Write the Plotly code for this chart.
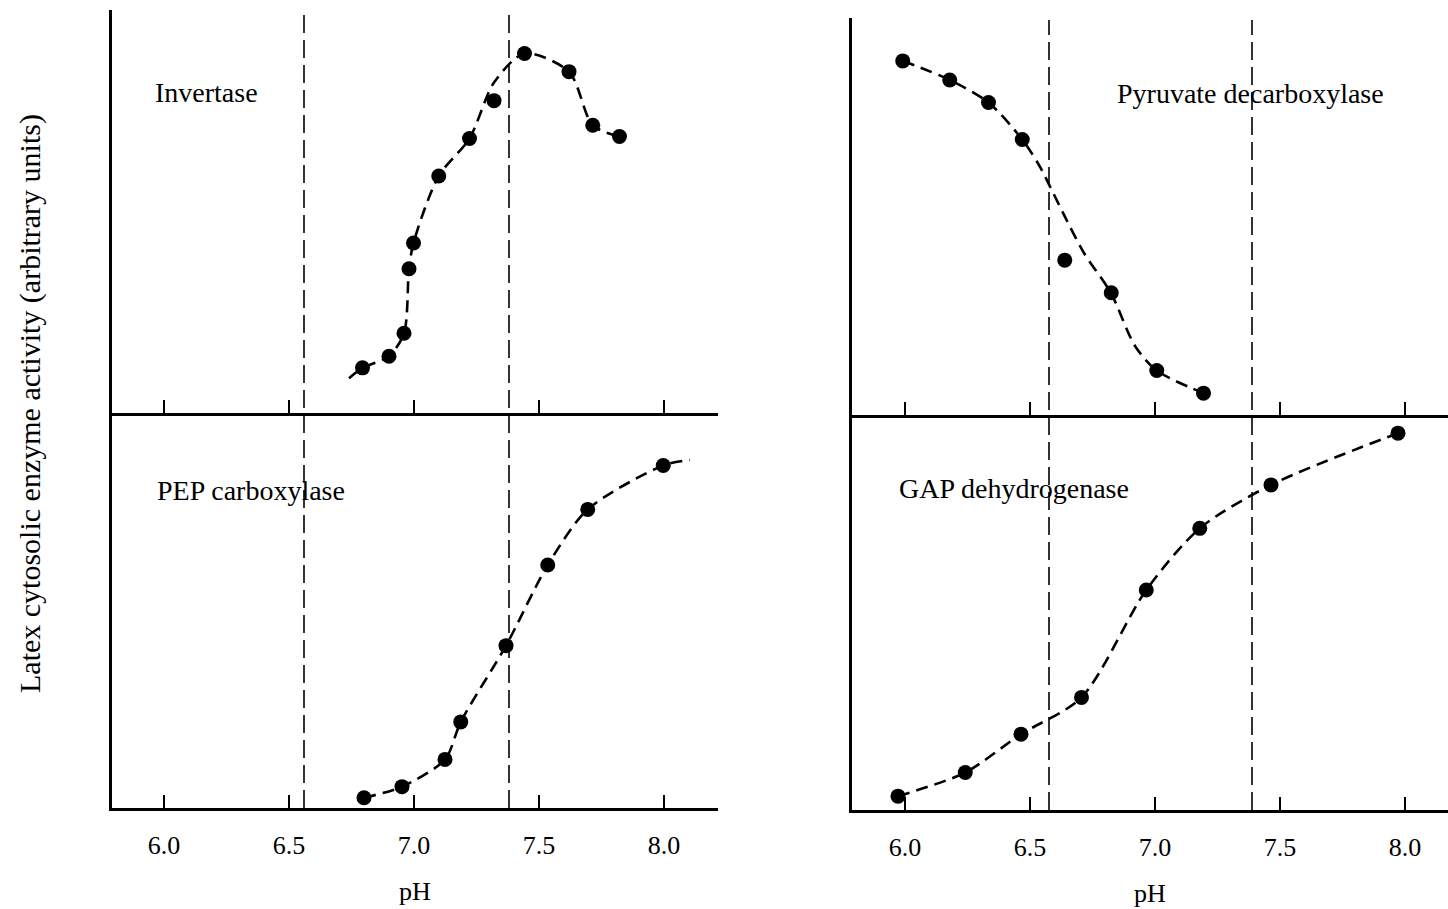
import plotly.graph_objects as go

# ---------------- data ----------------
# Invertase (top left)
inv_ph = [6.794, 6.90, 6.96, 6.98, 6.998, 7.099, 7.222, 7.32, 7.442, 7.62, 7.715, 7.822]
inv_act = [11.2, 14.1, 19.8, 35.8, 42.2, 58.8, 68.1, 77.5, 89.2, 84.7, 71.4, 68.6]
inv_curve_ph = [6.74, 6.794, 6.90, 6.96, 6.98, 6.998, 7.099, 7.222, 7.32, 7.442, 7.62, 7.715, 7.822]
inv_curve_act = [8.6, 11.2, 14.1, 19.8, 35.8, 42.2, 58.8, 68.1, 82.0, 89.2, 84.7, 71.4, 68.6]

# PEP carboxylase (bottom left)
pep_ph = [6.80, 6.952, 7.124, 7.187, 7.368, 7.535, 7.695, 7.997]
pep_act = [2.6, 5.4, 12.3, 21.8, 41.1, 61.5, 75.6, 86.7]
pep_curve_ph = [6.80, 6.952, 7.124, 7.187, 7.368, 7.535, 7.695, 7.997, 8.103]
pep_curve_act = [2.6, 5.4, 12.3, 21.8, 41.1, 61.5, 75.6, 86.7, 88.1]

# Pyruvate decarboxylase (top right)
pdc_ph = [5.991, 6.179, 6.334, 6.469, 6.639, 6.825, 7.007, 7.194]
pdc_act = [89.2, 84.4, 78.7, 69.4, 39.0, 30.8, 11.2, 5.5]
pdc_curve_ph = [5.991, 6.179, 6.334, 6.469, 6.54, 6.632, 6.716, 6.824, 6.92, 7.007, 7.194]
pdc_curve_act = [89.2, 84.4, 78.7, 69.4, 62.5, 50.9, 40.8, 30.7, 17.4, 11.2, 5.5]

# GAP dehydrogenase (bottom right)
gap_ph = [5.972, 6.241, 6.464, 6.706, 6.965, 7.179, 7.464, 7.972]
gap_act = [3.5, 9.5, 19.2, 28.5, 55.7, 71.3, 82.3, 95.4]

# reference pH lines (vertical dashed)
left_ref_ph = [6.56, 7.38]
right_ref_ph = [6.576, 7.388]

tick_vals = [6.0, 6.5, 7.0, 7.5, 8.0]
tick_text = ["6.0", "6.5", "7.0", "7.5", "8.0"]

panel_names = ["Invertase", "PEP carboxylase", "Pyruvate decarboxylase", "GAP dehydrogenase"]
y_title = "Latex cytosolic enzyme activity (arbitrary units)"
x_title = "pH"

# ---------------- figure ----------------
FONT = "Liberation Serif, Times New Roman, serif"
W, H = 1448, 909
fig = go.Figure()

curve_line = dict(color="black", width=2.6, dash="12px,7px", shape="spline", smoothing=0.8)
marker = dict(color="black", size=15)

panels = [
    ("x", "y", inv_curve_ph, inv_curve_act, inv_ph, inv_act),
    ("x2", "y2", pep_curve_ph, pep_curve_act, pep_ph, pep_act),
    ("x3", "y3", pdc_curve_ph, pdc_curve_act, pdc_ph, pdc_act),
    ("x4", "y4", gap_ph, gap_act, gap_ph, gap_act),
]
for xa, ya, cx, cy, px, py in panels:
    fig.add_trace(go.Scatter(x=cx, y=cy, mode="lines", line=curve_line,
                             xaxis=xa, yaxis=ya, showlegend=False, hoverinfo="skip"))
    fig.add_trace(go.Scatter(x=px, y=py, mode="markers", marker=marker,
                             xaxis=xa, yaxis=ya, showlegend=False))

left_dom = [112 / W, 718 / W]
right_dom = [852 / W, 1.0]
left_range = [5.792, 8.216]
right_range = [5.788, 8.172]

def xax(dom, rng, anchor, labels, title=None):
    d = dict(domain=dom, range=rng, anchor=anchor, showline=True, linecolor="black",
             linewidth=3, ticks="inside", ticklen=13, tickwidth=2, tickcolor="black",
             tickvals=tick_vals, ticktext=tick_text, showticklabels=labels,
             showgrid=False, zeroline=False, fixedrange=True,
             tickfont=dict(family=FONT, size=26, color="black"))
    if labels:
        d["ticklabelstandoff"] = 12
    if title:
        d["title"] = dict(text=title, font=dict(family=FONT, size=26, color="black"), standoff=23)
    return d

def yax(dom, anchor):
    return dict(domain=dom, range=[0, 100], anchor=anchor, showline=True, linecolor="black",
                linewidth=2.5, ticks="", showticklabels=False, showgrid=False,
                zeroline=False, fixedrange=True)

top_left_dom = [(H - 413) / H, (H - 10) / H]
bot_left_dom = [(H - 808) / H, (H - 413) / H]
top_right_dom = [(H - 415) / H, (H - 18) / H]
bot_right_dom = [(H - 810) / H, (H - 415) / H]

fig.update_layout(
    width=W, height=H,
    margin=dict(l=0, r=0, t=0, b=0),
    paper_bgcolor="white", plot_bgcolor="white",
    font=dict(family=FONT, color="black"),
    xaxis=xax(left_dom, left_range, "y", False),
    yaxis=yax(top_left_dom, "x"),
    xaxis2=xax(left_dom, left_range, "y2", True, x_title),
    yaxis2=yax(bot_left_dom, "x2"),
    xaxis3=xax(right_dom, right_range, "y3", False),
    yaxis3=yax(top_right_dom, "x3"),
    xaxis4=xax(right_dom, right_range, "y4", True, x_title),
    yaxis4=yax(bot_right_dom, "x4"),
)

# vertical dashed reference lines
ref_line = dict(color="black", width=1.6, dash="18px,7px")
for v in left_ref_ph:
    fig.add_shape(type="line", xref="x", yref="paper", x0=v, x1=v,
                  y0=(H - 808) / H, y1=(H - 13) / H, line=ref_line, layer="below")
for v in right_ref_ph:
    fig.add_shape(type="line", xref="x3", yref="paper", x0=v, x1=v,
                  y0=(H - 810) / H, y1=(H - 20) / H, line=ref_line, layer="below")

# panel labels
label_font = dict(family=FONT, size=28, color="black")
label_pos = [("x", "y", 5.956, 79.5), ("x2", "y2", 5.964, 80.5),
             ("x3", "y3", 6.84, 81.1), ("x4", "y4", 5.968, 81.3)]
for name, (xr, yr, lx, ly) in zip(panel_names, label_pos):
    fig.add_annotation(text=name, xref=xr, yref=yr, x=lx, y=ly, xanchor="left",
                       yanchor="middle", showarrow=False, font=label_font)

# y-axis title
fig.add_annotation(text=y_title, xref="paper", yref="paper", x=30 / W, y=(H - 404) / H,
                   textangle=-90, showarrow=False, xanchor="center", yanchor="middle",
                   font=dict(family=FONT, size=30, color="black"))

fig.write_html("out.html")
